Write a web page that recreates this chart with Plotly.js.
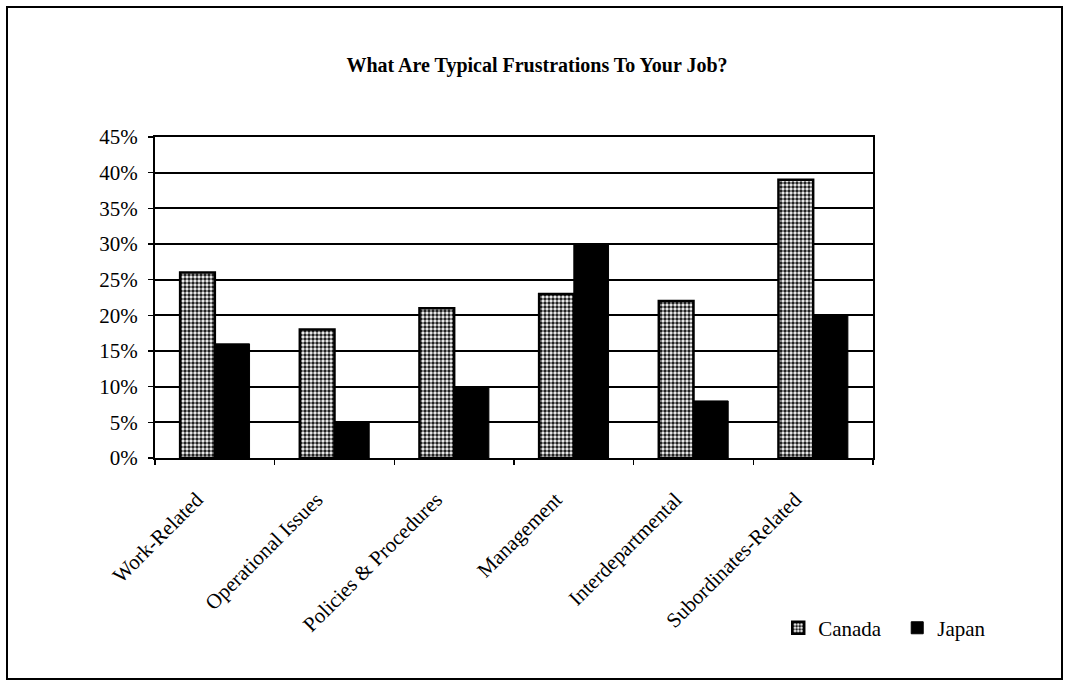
<!DOCTYPE html>
<html>
<head>
<meta charset="utf-8">
<script src="https://cdn.plot.ly/plotly-3.0.1.min.js"></script>
<style>
  html, body { margin: 0; padding: 0; background: #fff; }
  #chart { width: 1070px; height: 682px; }
</style>
</head>
<body>
<div id="chart"></div>
<script>
const categories = ["Work-Related", "Operational Issues", "Policies & Procedures", "Management", "Interdepartmental", "Subordinates-Related"];
const canada = [0.26, 0.18, 0.21, 0.23, 0.22, 0.39];
const japan = [0.16, 0.05, 0.10, 0.30, 0.08, 0.20];
const seriesNames = ["Canada", "Japan"];
const titleText = "What Are Typical Frustrations To Your Job?";

const serif = "Liberation Serif, Times New Roman, serif";

const traces = [
  {
    type: "bar", name: seriesNames[0], x: categories, y: canada,
    marker: {
      color: "#ffffff",
      line: { color: "#000", width: 2.5 },
      pattern: { shape: ".", fgcolor: "#222", bgcolor: "#ffffff", size: 4, solidity: 0.6 }
    }
  },
  {
    type: "bar", name: seriesNames[1], x: categories, y: japan,
    marker: { color: "#000000", line: { color: "#000", width: 1 } }
  }
];

const layout = {
  width: 1070, height: 682,
  paper_bgcolor: "#fff", plot_bgcolor: "#fff",
  margin: { l: 155, r: 197, t: 137, b: 224 },
  barmode: "group", bargap: 0.42, bargroupgap: 0,
  showlegend: true,
  legend: {
    orientation: "h", x: 0.868, xanchor: "left", y: -0.53, yanchor: "middle",
    font: { family: serif, size: 21, color: "#000" },
    itemwidth: 30, entrywidth: 74, traceorder: "normal", bgcolor: "rgba(0,0,0,0)"
  },
  title: {
    text: "<b>" + titleText + "</b>",
    font: { family: serif, size: 20, color: "#000" },
    xref: "paper", x: (537 - 155) / 718, xanchor: "center",
    yref: "container", y: 1 - 65 / 682, yanchor: "middle"
  },
  xaxis: {
    type: "category", tickangle: -45,
    tickfont: { family: serif, size: 21, color: "#000" },
    ticklabelstandoff: 19, ticklabelshift: -18,
    showline: true, linecolor: "#000", linewidth: 2, mirror: true,
    ticks: "outside", tickson: "boundaries", ticklen: 5, tickcolor: "#000", tickwidth: 1.5,
    showgrid: false
  },
  yaxis: {
    range: [0, 0.45], dtick: 0.05, tickformat: ".0%",
    tickfont: { family: serif, size: 21, color: "#000" },
    ticklabelstandoff: 6,
    showline: true, linecolor: "#000", linewidth: 2, mirror: true,
    ticks: "outside", ticklen: 5, tickcolor: "#000", tickwidth: 1.5,
    showgrid: true, gridcolor: "#000", gridwidth: 2,
    zeroline: false
  },
  shapes: [
    { type: "rect", xref: "paper", yref: "paper",
      x0: (7 - 155) / 718, x1: (1062 - 155) / 718,
      y0: (458 - 679) / 321, y1: (458 - 7) / 321,
      line: { color: "#000", width: 2 }, fillcolor: "rgba(0,0,0,0)", layer: "below" }
  ]
};

Plotly.newPlot("chart", traces, layout, { displayModeBar: false, staticPlot: true });
</script>
</body>
</html>
